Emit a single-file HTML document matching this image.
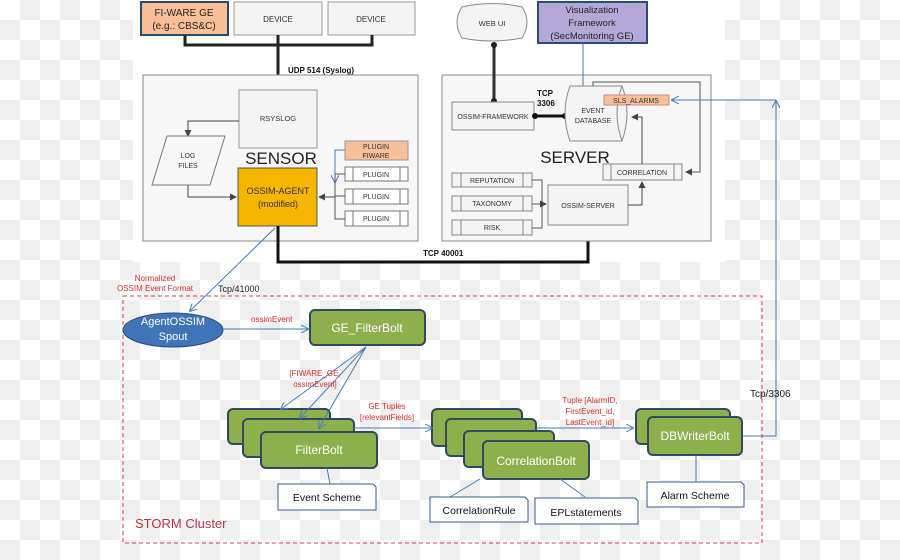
<!DOCTYPE html>
<html><head><meta charset="utf-8"><style>
body{margin:0;width:900px;height:560px;overflow:hidden;
background:repeating-conic-gradient(#efefef 0 25%,#fff 0 50%) 0 0/40px 40px;}
svg{position:absolute;left:0;top:0}
text{font-family:"Liberation Sans",sans-serif}
</style></head><body>
<svg width="900" height="560" viewBox="0 0 900 560">
<defs>
<marker id="ab" markerWidth="8" markerHeight="8" refX="7" refY="4" orient="auto" markerUnits="userSpaceOnUse"><path d="M0,0 L8,4 L0,8" fill="none" stroke="#4a7ab8" stroke-width="1"/></marker>
<marker id="ak" markerWidth="10" markerHeight="10" refX="8" refY="5" orient="auto" markerUnits="userSpaceOnUse"><path d="M0,0 L10,5 L0,10z" fill="#111"/></marker>
<marker id="ag" markerWidth="7" markerHeight="7" refX="6" refY="3.5" orient="auto" markerUnits="userSpaceOnUse"><path d="M0,0 L7,3.5 L0,7z" fill="#444"/></marker>
</defs>
<rect x="133" y="0" width="592" height="262" fill="#fff"/>
<rect x="141" y="2" width="87" height="33" fill="#f8bf98" stroke="#2a4a6a" stroke-width="2"/>
<text x="184" y="16" font-size="10" text-anchor="middle" fill="#222">FI-WARE GE</text>
<text x="184" y="29" font-size="10" text-anchor="middle" fill="#222">(e.g.: CBS&amp;C)</text>
<rect x="234" y="2" width="88" height="33" fill="#f4f4f4" stroke="#999"/>
<text x="278" y="22" font-size="8" text-anchor="middle" fill="#333">DEVICE</text>
<rect x="328" y="2" width="87" height="33" fill="#f4f4f4" stroke="#999"/>
<text x="371" y="22" font-size="8" text-anchor="middle" fill="#333">DEVICE</text>
<path d="M185,35 V45 H372 V35 M278,35 V84" fill="none" stroke="#222" stroke-width="3" marker-end="url(#ak)"/>
<text x="288" y="73" font-size="8" font-weight="bold" fill="#111">UDP 514 (Syslog)</text>
<rect x="143" y="75" width="275" height="166" fill="#f7f7f7" stroke="#888"/>
<rect x="239" y="90" width="78" height="58" fill="#f4f4f4" stroke="#999"/>
<text x="278" y="121" font-size="7.5" text-anchor="middle" fill="#333">RSYSLOG</text>
<path d="M239,121 H188 V136" fill="none" stroke="#444" marker-end="url(#ag)"/>
<polygon points="167,136 225,136 210,185 152,185" fill="#f7f7f7" stroke="#777"/>
<text x="188" y="158" font-size="7" text-anchor="middle" fill="#333">LOG</text>
<text x="188" y="168" font-size="7" text-anchor="middle" fill="#333">FILES</text>
<path d="M188,185 V197 H236" fill="none" stroke="#444" marker-end="url(#ag)"/>
<text x="281" y="164" font-size="17" text-anchor="middle" fill="#222">SENSOR</text>
<rect x="238" y="168" width="79" height="58" fill="#f6b600" stroke="#555"/>
<text x="278" y="194" font-size="9" text-anchor="middle" fill="#333">OSSIM-AGENT</text>
<text x="278" y="207" font-size="9" text-anchor="middle" fill="#333">(modified)</text>
<rect x="345" y="141" width="63" height="19" fill="#f8bf98" stroke="#999"/>
<text x="376" y="149" font-size="7" text-anchor="middle" fill="#333">PLUGIN</text>
<text x="376" y="158" font-size="7" text-anchor="middle" fill="#333">FIWARE</text>
<path d="M345,150 H335 V182" fill="none" stroke="#4a7ab8" marker-end="url(#ab)"/>
<g fill="#fff" stroke="#777">
<rect x="345" y="167" width="63" height="14"/><rect x="345" y="189" width="63" height="15"/><rect x="345" y="211" width="63" height="15"/>
<path d="M353,167V181M400,167V181M353,189V204M400,189V204M353,211V226M400,211V226"/></g>
<g font-size="7" text-anchor="middle" fill="#333"><text x="376" y="177">PLUGIN</text><text x="376" y="199">PLUGIN</text><text x="376" y="221">PLUGIN</text></g>
<path d="M345,174 H335 V219 H345 M345,196 H335" fill="none" stroke="#555"/>
<path d="M335,197 H319" stroke="#444" marker-end="url(#ag)"/>
<path d="M278,226 V262 H588 V228" fill="none" stroke="#111" stroke-width="3" marker-end="url(#ak)"/>
<text x="423" y="256" font-size="8" font-weight="bold" fill="#111">TCP 40001</text>
<rect x="442" y="75" width="269" height="166" fill="#f7f7f7" stroke="#888"/>
<path d="M462,7 Q492,0 522,7 Q532,22 522,38 Q492,44 462,38 Q452,22 462,7z" fill="#f4f4f4" stroke="#888"/>
<text x="492" y="26" font-size="7.5" text-anchor="middle" fill="#333">WEB UI</text>
<path d="M494,44 V102" stroke="#333" stroke-width="3"/>
<circle cx="494" cy="45" r="3" fill="#222"/><circle cx="494" cy="101" r="3" fill="#222"/>
<rect x="538" y="2" width="109" height="41" fill="#b3a8d8" stroke="#2e4a7a" stroke-width="2"/>
<g font-size="9.5" text-anchor="middle" fill="#222"><text x="592" y="13">Visualization</text><text x="592" y="26">Framework</text><text x="592" y="39">(SecMonitoring GE)</text></g>
<path d="M583,43 V93" stroke="#4a7ab8" marker-end="url(#ab)"/>
<rect x="452" y="102" width="82" height="28" fill="#f4f4f4" stroke="#888"/>
<text x="493" y="119" font-size="7" text-anchor="middle" fill="#333">OSSIM-FRAMEWORK</text>
<path d="M535,116 H565" stroke="#111" stroke-width="3"/>
<circle cx="535" cy="116" r="3" fill="#111"/><circle cx="565" cy="116" r="3" fill="#111"/>
<text x="537" y="96" font-size="8" font-weight="bold" fill="#111">TCP</text>
<text x="537" y="106" font-size="8" font-weight="bold" fill="#111">3306</text>
<path d="M570,86 H622 Q632,113 622,141 H570 Q560,113 570,86z" fill="#f4f4f4" stroke="#888"/>
<path d="M622,86 Q612,113 622,141" fill="none" stroke="#888"/>
<text x="593" y="113" font-size="7" text-anchor="middle" fill="#333">EVENT</text>
<text x="593" y="123" font-size="7" text-anchor="middle" fill="#333">DATABASE</text>
<path d="M593,86 V82 H700 V172 H686" fill="none" stroke="#555" marker-end="url(#ag)"/>
<rect x="604" y="95" width="65" height="10" fill="#f8bf98" stroke="#c88"/>
<text x="636" y="103" font-size="7" text-anchor="middle" fill="#333">SLS_ALARMS</text>
<text x="575" y="163" font-size="17" text-anchor="middle" fill="#222">SERVER</text>
<rect x="603" y="164" width="79" height="16" fill="#f4f4f4" stroke="#888"/>
<path d="M611,164V180M674,164V180" stroke="#888"/>
<text x="642" y="175" font-size="7" text-anchor="middle" fill="#333">CORRELATION</text>
<path d="M642,164 V117 H632" fill="none" stroke="#444" marker-end="url(#ag)"/>
<g fill="#f4f4f4" stroke="#888"><rect x="452" y="173" width="80" height="14"/><rect x="452" y="196" width="80" height="15"/><rect x="452" y="220" width="80" height="15"/>
<path d="M461,173V187M523,173V187M461,196V211M523,196V211M461,220V235M523,220V235"/></g>
<g font-size="7" text-anchor="middle" fill="#333"><text x="492" y="183">REPUTATION</text><text x="492" y="206">TAXONOMY</text><text x="492" y="230">RISK</text></g>
<path d="M532,180 H542 V228 H532 M532,204 H546" fill="none" stroke="#555" marker-end="url(#ag)"/>
<rect x="548" y="185" width="80" height="40" fill="#f4f4f4" stroke="#888"/>
<text x="588" y="208" font-size="7" text-anchor="middle" fill="#333">OSSIM-SERVER</text>
<path d="M628,205 H642 V182" fill="none" stroke="#444" marker-end="url(#ag)"/>
<path d="M742,436 H776 V101" fill="none" stroke="#4a7ab8" marker-end="url(#ab)"/>
<path d="M776,100 H672" fill="none" stroke="#4a7ab8" marker-end="url(#ab)"/>
<text x="750" y="397" font-size="10" fill="#222">Tcp/3306</text>
<rect x="123" y="296" width="639" height="247" fill="none" stroke="#d04050" stroke-dasharray="4,3"/>
<text x="135" y="528" font-size="13" fill="#c03040">STORM Cluster</text>
<text x="155" y="281" font-size="8" text-anchor="middle" fill="#d03030">Normalized</text>
<text x="155" y="291" font-size="8" text-anchor="middle" fill="#d03030">OSSIM Event Format</text>
<text x="218" y="292" font-size="9" fill="#222">Tcp/41000</text>
<path d="M275,228 L190,311" stroke="#4a7ab8" marker-end="url(#ab)"/>
<ellipse cx="173" cy="330" rx="50" ry="17" fill="#3f74b8" stroke="#2a4a7a"/>
<text x="173" y="325" font-size="11" text-anchor="middle" fill="#fff">AgentOSSIM</text>
<text x="173" y="340" font-size="11" text-anchor="middle" fill="#fff">Spout</text>
<text x="251" y="322" font-size="8" fill="#d03030">ossimEvent</text>
<path d="M223,329 H308" stroke="#4a7ab8" marker-end="url(#ab)"/>
<g fill="#8db04c" stroke="#2f4a5c" stroke-width="2">
<rect x="310" y="310" width="115" height="35" rx="5"/>
<rect x="228" y="409" width="102" height="35" rx="5"/><rect x="243" y="419" width="111" height="38" rx="5"/><rect x="261" y="432" width="116" height="36" rx="5"/>
<rect x="432" y="409" width="90" height="37" rx="5"/><rect x="446" y="419" width="90" height="37" rx="5"/><rect x="464" y="431" width="90" height="36" rx="5"/><rect x="483" y="441" width="106" height="38" rx="5"/>
<rect x="636" y="409" width="94" height="35" rx="5"/><rect x="648" y="417" width="94" height="38" rx="5"/>
</g>
<g font-size="12" text-anchor="middle" fill="#fff">
<text x="367" y="332">GE_FilterBolt</text><text x="319" y="454">FilterBolt</text><text x="536" y="465">CorrelationBolt</text><text x="695" y="440">DBWriterBolt</text></g>
<g stroke="#4a7ab8" fill="none">
<path d="M366,347 L281,409" marker-end="url(#ab)"/><path d="M366,347 L300,418" marker-end="url(#ab)"/><path d="M366,347 L319,428" marker-end="url(#ab)"/>
<path d="M354,428 H432" marker-end="url(#ab)"/><path d="M536,428 H633" marker-end="url(#ab)"/>
<path d="M327,468 L330,484 M480,479 L450,497 M560,479 L585,497 M696,455 V482"/></g>
<g font-size="8" fill="#d03030" text-anchor="middle">
<text x="315" y="376">[FIWARE_GE,</text><text x="315" y="387">ossimEvent]</text>
<text x="387" y="409">GE Tuples</text><text x="387" y="420">[relevantFields]</text>
<text x="590" y="403">Tuple [AlarmID,</text><text x="590" y="414">FirstEvent_id,</text><text x="590" y="425">LastEvent_id]</text></g>
<g fill="#fff" stroke="#3a5a8a">
<path d="M278,484 H373 L376,487 V510 H278z"/><path d="M430,497 H525 L528,500 V522 H430z"/><path d="M535,498 H635 L638,501 V524 H535z"/><path d="M647,482 H741 L744,485 V507 H647z"/></g>
<g font-size="10.5" text-anchor="middle" fill="#111">
<text x="327" y="501">Event Scheme</text><text x="479" y="514">CorrelationRule</text><text x="586" y="516">EPLstatements</text><text x="695" y="499">Alarm Scheme</text></g>
</svg>
</body></html>
